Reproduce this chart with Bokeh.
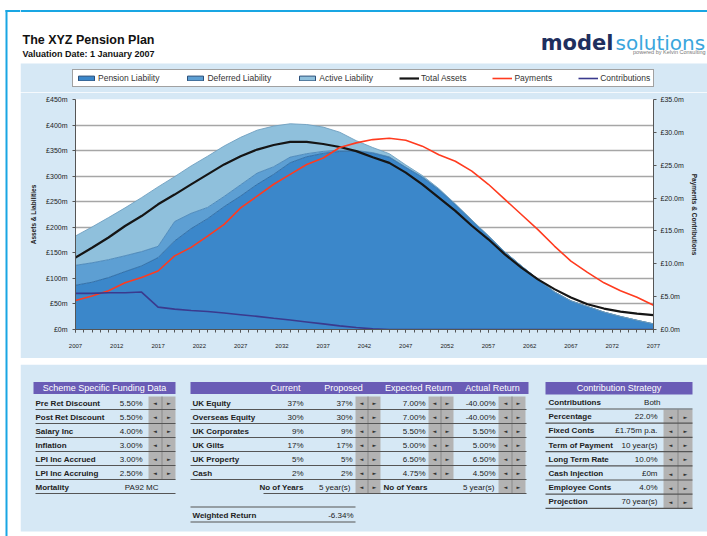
from bokeh.plotting import figure
from bokeh.layouts import row, column
from bokeh.models import (Range1d, LinearAxis, FixedTicker, ColumnDataSource, Legend,
                          LegendItem, Spacer)
from bokeh.core.properties import value
from bokeh.embed import file_html
from bokeh.resources import INLINE

# ---------------- data ----------------
years = list(range(2007, 2078, 2))
pension_liability = [86.6, 92.5, 101.6, 113.3, 124.4, 140.7, 173.2, 197.3, 216.9, 240.3,
                     261.2, 284.0, 303.5, 326.3, 338.0, 344.5, 348.4, 349.0, 345.0, 337.0,
                     317.0, 298.0, 273.5, 244.5, 213.5, 183.0, 151.7, 124.4, 98.3, 73.6,
                     56.0, 45.0, 34.0, 25.5, 18.0, 11.0]
deferred_liability = [39.0, 38.0, 35.0, 31.0, 28.0, 22.0, 38.0, 30.0, 22.0, 20.0,
                      22.0, 22.0, 15.0, 11.0, 6.0, 4.0, 2.6, 1.4, 1.0, 0.7,
                      0.5, 0.3, 0.2, 0.1, 0.1, 0, 0, 0, 0, 0,
                      0, 0, 0, 0, 0, 0]
active_liability = [57.4, 70.1, 82.4, 93.7, 105.6, 116.3, 87.8, 92.7, 100.1, 98.7,
                    92.8, 84.0, 79.5, 65.2, 57.0, 47.5, 35.0, 19.0, 10.0, 6.3,
                    4.5, 3.0, 2.0, 1.2, 0.8, 0.5, 0.3, 0.2, 0.1, 0,
                    0, 0, 0, 0, 0, 0]
total_assets = [140.7, 160.0, 180.0, 202.5, 222.0, 245.0, 264.0, 284.0, 303.5, 323.0,
                339.0, 352.0, 361.0, 367.0, 367.0, 363.0, 357.0, 349.0, 337.0, 326.0,
                307.0, 284.0, 258.0, 232.0, 203.0, 176.5, 147.0, 121.0, 98.0, 79.0,
                62.5, 49.5, 41.0, 35.0, 31.0, 28.0]
payments = [4.4, 5.1, 5.9, 7.1, 7.9, 8.9, 11.2, 12.5, 14.2, 16.0,
            18.5, 20.3, 22.1, 23.6, 25.1, 26.1, 27.7, 28.4, 28.9, 29.1,
            28.8, 27.9, 26.6, 25.6, 24.1, 22.1, 19.8, 17.5, 15.2, 12.7,
            10.4, 8.7, 7.1, 5.9, 4.9, 3.7]
contributions = [5.5, 5.5, 5.6, 5.6, 5.7, 3.4, 3.1, 2.9, 2.75, 2.5,
                 2.25, 2.0, 1.7, 1.45, 1.15, 0.85, 0.55, 0.3, 0.1, 0,
                 0, 0, 0, 0, 0, 0, 0, 0, 0, 0,
                 0, 0, 0, 0, 0, 0]

series_labels = ["Pension Liability", "Deferred Liability", "Active Liability",
                 "Total Assets", "Payments", "Contributions"]

x_ticks = list(range(2007, 2078, 5))
x_minor_ticks = list(range(2007, 2078))
x_tick_labels = [str(t) for t in x_ticks]
left_ticks = list(range(0, 451, 50))
left_tick_labels = ["£%dm" % t for t in left_ticks]
right_ticks = list(range(0, 36, 5))
right_tick_labels = ["£%.1fm" % t for t in right_ticks]

title_text = "The XYZ Pension Plan"
subtitle_text = "Valuation Date: 1 January 2007"

funding_title = "Scheme Specific Funding Data"
funding_labels = ["Pre Ret Discount", "Post Ret Discount", "Salary Inc", "Inflation",
                  "LPI Inc Accrued", "LPI Inc Accruing", "Mortality"]
funding_values = ["5.50%", "5.50%", "4.00%", "3.00%", "3.00%", "2.50%", "PA92 MC"]

asset_headers = ["Current", "Proposed", "Expected Return", "Actual Return"]
asset_labels = ["UK Equity", "Overseas Equity", "UK Corporates", "UK Gilts", "UK Property", "Cash"]
asset_current = ["37%", "30%", "9%", "17%", "5%", "2%"]
asset_proposed = ["37%", "30%", "9%", "17%", "5%", "2%"]
asset_expected = ["7.00%", "7.00%", "5.50%", "5.00%", "6.50%", "4.75%"]
asset_actual = ["-40.00%", "-40.00%", "5.50%", "5.00%", "6.50%", "4.50%"]
years_label = "No of Years"
years_value = "5 year(s)"
weighted_label = "Weighted Return"
weighted_value = "-6.34%"

contrib_title = "Contribution Strategy"
contrib_labels = ["Contributions", "Percentage", "Fixed Conts", "Term of Payment",
                  "Long Term Rate", "Cash Injection", "Employee Conts", "Projection"]
contrib_values = ["Both", "22.0%", "£1.75m p.a.", "10 year(s)", "10.0%", "£0m", "4.0%", "70 year(s)"]

# ---------------- style constants ----------------
FONT = "Liberation Sans"
PANEL = "#d6e8f5"
PURPLE = "#6a5cb6"
BTN = "#b3b3b3"
CYAN = "#19a6e3"
AREA_COLORS = ["#3b87ca", "#5d9fd3", "#8fc0dc"]
EDGE_COLORS = ["#2d6aa3", "#4a86b8", "#6f9fbf"]
ASSET_COLOR, PAY_COLOR, CON_COLOR = "#151515", "#ff3b1f", "#3a3a8e"
W = 707
H_HEAD = 92     # 0..92  (title, logo, top of chart panel with legend)
H_CHART = 266   # 92..358
GAP = 6         # 358..364
H_TAB = 172     # 364..536


def deco_fig(x0, x1, y0, y1, bg):
    """Decoration canvas whose data units are page pixels (y downwards)."""
    f = figure(width=int(x1 - x0), height=int(y1 - y0), x_range=Range1d(x0, x1),
               y_range=Range1d(y1, y0), output_backend="svg", toolbar_location=None,
               min_border=0, x_axis_type=None, y_axis_type=None, frame_align=False)
    f.xgrid.visible = False
    f.ygrid.visible = False
    f.outline_line_color = None
    f.background_fill_color = bg
    f.border_fill_color = bg
    return f


def box(f, x0, y0, x1, y1, fill, line=None, lw=1.0):
    return f.quad(left=[x0], right=[x1], top=[y0], bottom=[y1], fill_color=fill,
                  line_color=line, line_width=lw)


def hline(f, x0, x1, y, color="#555555", w=1.2):
    box(f, x0, y - w / 2, x1, y + w / 2, color)


def texts(f, items, size, color="#222222", style="normal", align="left",
          baseline="middle", font=FONT):
    f.text(x=[a for a, _, _ in items], y=[b for _, b, _ in items], text=[c for _, _, c in items],
           text_font=value(font), text_font_size=value("%spx" % size), text_color=color,
           text_font_style=value(style), text_align=value(align), text_baseline=value(baseline))


# ---------------- left strip (card border) ----------------
strip = deco_fig(0, 20, 0, 536, "white")
box(strip, 5, 9.5, 20, 11.5, CYAN)
box(strip, 5, 9.5, 7, 536, CYAN)

# ---------------- header (with legend) ----------------
head = deco_fig(20, W, 0, H_HEAD, "white")
box(head, 20, 9.5, W, 11.5, CYAN)
box(head, 20, 63, W, H_HEAD, PANEL)
texts(head, [(22, 39, title_text)], 12.5, color="#111111", style="bold")
texts(head, [(22, 53.5, subtitle_text)], 9, color="#111111", style="bold")
texts(head, [(613, 42, "model")], 21, color="#1f2f5e", style="bold", align="right",
      baseline="alphabetic", font="DejaVu Sans")
texts(head, [(615, 42, "solutions")], 20, color="#3aa6dd", align="left",
      baseline="alphabetic", font="DejaVu Sans")
texts(head, [(705, 51, "powered by Kelvin Consulting")], 5.5, color="#777777", align="right")

# legend keys: off-canvas proxies carrying the styles of the chart series
OFF = [-50, -40]
keys = [box(head, -50, -50, -40, -40, c, line="#2a4f7a", lw=1.0) for c in AREA_COLORS]
keys.append(head.line(x=OFF, y=OFF, line_color=ASSET_COLOR, line_width=2.2))
keys.append(head.line(x=OFF, y=OFF, line_color=PAY_COLOR, line_width=1.6))
keys.append(head.line(x=OFF, y=OFF, line_color=CON_COLOR, line_width=1.6))
leg = Legend(items=[LegendItem(label=l, renderers=[r]) for l, r in zip(series_labels, keys)],
             orientation="horizontal", location=(72 - 20, H_HEAD - 87))
leg.background_fill_color = "white"
leg.background_fill_alpha = 1.0
leg.border_line_color = "#444444"
leg.border_line_width = 1.2
leg.label_text_font = FONT
leg.label_text_font_size = "8.5px"
leg.label_text_color = "#333333"
leg.label_height = 10
leg.glyph_height = 6
leg.glyph_width = 20
leg.label_standoff = 2
leg.spacing = 26
leg.padding = 3
leg.margin = 0
head.add_layout(leg)

# ---------------- chart ----------------
p = figure(width=W - 20, height=H_CHART, output_backend="svg", toolbar_location=None,
           x_range=Range1d(2007, 2077), y_range=Range1d(0, 450), frame_align=False,
           min_border_left=55, min_border_right=54, min_border_top=7, min_border_bottom=29)
p.extra_y_ranges = {"right": Range1d(0, 35)}
p.border_fill_color = PANEL
p.background_fill_color = "white"
p.outline_line_color = None

src = ColumnDataSource(dict(year=years, pension=pension_liability, deferred=deferred_liability,
                            active=active_liability, assets=total_assets,
                            payments=payments, contributions=contributions))
stack = ["pension", "deferred", "active"]
p.varea_stack(stackers=stack, x="year", source=src, color=AREA_COLORS)
p.vline_stack(stackers=stack, x="year", source=src, color=EDGE_COLORS, line_width=0.9)
p.line("year", "assets", source=src, color=ASSET_COLOR, line_width=2.2)
p.line("year", "payments", source=src, color=PAY_COLOR, line_width=1.6, y_range_name="right")
p.line("year", "contributions", source=src, color=CON_COLOR, line_width=1.6, y_range_name="right")

xa = p.xaxis[0]
xa.ticker = FixedTicker(ticks=x_ticks, minor_ticks=x_minor_ticks)
xa.major_label_overrides = dict(zip(x_ticks, x_tick_labels))
ya = p.yaxis[0]
ya.ticker = FixedTicker(ticks=left_ticks)
ya.major_label_overrides = dict(zip(left_ticks, left_tick_labels))
ya.axis_label = "Assets & Liabilities"
ra = LinearAxis(y_range_name="right", ticker=FixedTicker(ticks=right_ticks),
                major_label_overrides=dict(zip(right_ticks, right_tick_labels)),
                axis_label="Payments & Contributions")
p.add_layout(ra, "right")

for ax in (xa, ya, ra):
    ax.axis_line_color = "#555555"
    ax.major_tick_line_color = "#555555"
    ax.major_tick_out = 3
    ax.major_tick_in = 0
    ax.major_label_text_font = FONT
    ax.major_label_text_color = "#222222"
    ax.axis_label_text_font = FONT
    ax.axis_label_text_font_size = "6.5px"
    ax.axis_label_text_font_style = "bold"
    ax.axis_label_text_color = "#222222"
xa.major_label_text_font_size = "6px"
xa.major_label_standoff = 11
xa.minor_tick_line_color = "#555555"
xa.minor_tick_out = 3
xa.minor_tick_in = 0
for ax in (ya, ra):
    ax.major_label_text_font_size = "7px"
    ax.minor_tick_line_color = None
ya.major_label_standoff = 5
ya.axis_label_standoff = 6
ra.major_label_standoff = 4
ra.axis_label_standoff = 4

p.xgrid.grid_line_color = None
p.ygrid.ticker = FixedTicker(ticks=left_ticks[1:-1])
p.ygrid.grid_line_color = "#a6a6a6"
p.ygrid.grid_line_width = 1.6

# ---------------- tables ----------------
t = deco_fig(20, W, 364, 536, "white")
box(t, 20, 364, W, 531, PANEL)
ROW = 14.0
Y0 = 402.5
LS = 8      # row label font size
VS = 8      # value font size
HS = 9      # header font size


def arrows(xa_, xb_, ys):
    texts(t, [(xa_, y, "◄") for y in ys] + [(xb_, y, "►") for y in ys], 5,
          color="#333333", align="center", font="DejaVu Sans")


# table 1: funding data
box(t, 33, 381.5, 175, 393.5, PURPLE)
texts(t, [(104, 387.5, funding_title)], HS, color="white", align="center")
rows1 = [Y0 + ROW * i for i in range(len(funding_labels))]
box(t, 148, 396, 175, rows1[5] + 7, BTN)
box(t, 161, 396, 162, rows1[5] + 7, "#8a8a8a")
for y in rows1:
    hline(t, 35, 175, y + 6.5)
texts(t, [(35, y, s) for y, s in zip(rows1, funding_labels)], LS, style="bold")
texts(t, [(142, y, s) for y, s in zip(rows1[:-1], funding_values[:-1])], VS, align="right")
texts(t, [(158, rows1[-1], funding_values[-1])], VS, align="right")
arrows(154.5, 168.5, rows1[:-1])

# table 2: asset allocation
box(t, 190, 381.5, 528, 393.5, PURPLE)
texts(t, [(c, 387.5, h) for c, h in zip([285, 343, 418, 492], asset_headers)], HS,
      color="white", align="center")
rows2 = [Y0 + ROW * i for i in range(len(asset_labels))]
yrow7 = Y0 + ROW * 6
box(t, 355, 396, 380, yrow7 + 7, BTN)
box(t, 428, 396, 453, rows2[-1] + 7, BTN)
box(t, 498, 396, 525, yrow7 + 7, BTN)
for xm in (367, 440, 511):
    box(t, xm, 396, xm + 1, (rows2[-1] if xm == 440 else yrow7) + 7, "#8a8a8a")
for y in rows2:
    hline(t, 190, 526, y + 6.5)
hline(t, 263, 526, yrow7 + 6.5)
texts(t, [(192, y, s) for y, s in zip(rows2, asset_labels)], LS, style="bold")
texts(t, [(303, y, s) for y, s in zip(rows2, asset_current)], VS, align="right")
texts(t, [(352, y, s) for y, s in zip(rows2, asset_proposed)], VS, align="right")
texts(t, [(425, y, s) for y, s in zip(rows2, asset_expected)], VS, align="right")
texts(t, [(495, y, s) for y, s in zip(rows2, asset_actual)], VS, align="right")
arrows(361, 374, rows2 + [yrow7])
arrows(434, 447, rows2)
arrows(505, 518, rows2 + [yrow7])
texts(t, [(303, yrow7, years_label)], LS, style="bold", align="right")
texts(t, [(383, yrow7, years_label)], LS, style="bold", align="left")
texts(t, [(350, yrow7, years_value), (494, yrow7, years_value)], VS, align="right")
hline(t, 190, 355, 506.5)
hline(t, 190, 355, 521.5)
texts(t, [(192, 514.5, weighted_label)], LS, style="bold")
texts(t, [(353, 514.5, weighted_value)], VS, align="right")

# table 3: contribution strategy
box(t, 545, 381.5, 692, 394, PURPLE)
texts(t, [(618.5, 387.7, contrib_title)], HS, color="white", align="center")
rows3 = [402.0 + 14.2 * i for i in range(len(contrib_labels))]
box(t, 663, rows3[1] - 7, 692, rows3[-1] + 7, BTN)
box(t, 677, rows3[1] - 7, 678, rows3[-1] + 7, "#8a8a8a")
for y in rows3:
    hline(t, 545, 692, y + 6.5)
texts(t, [(548, y, s) for y, s in zip(rows3, contrib_labels)], LS, style="bold")
texts(t, [(660, rows3[0], contrib_values[0])], VS, align="right")
texts(t, [(657, y, s) for y, s in zip(rows3[1:], contrib_values[1:])], VS, align="right")
arrows(670, 685, rows3[1:])

layout = row(strip,
             column(head, p, Spacer(width=W - 20, height=GAP), t, spacing=0),
             spacing=0)
open("out.html", "w").write(file_html(layout, INLINE))
